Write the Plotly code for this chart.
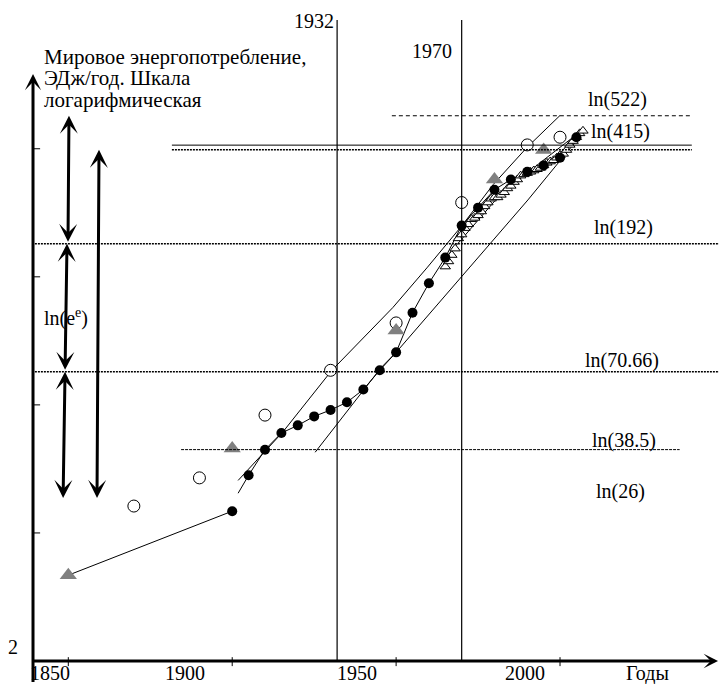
import plotly.graph_objects as go
import math

# ---------------- data (y = ln of world energy use, EJ/yr) ----------------
years_black = [1900, 1905, 1910, 1915, 1920, 1925, 1930, 1935, 1940, 1945, 1950,
               1955, 1960, 1965, 1970, 1975, 1980, 1985, 1990, 1995, 2000, 2005]
ln_black = [3.17, 3.45, 3.65, 3.78, 3.84, 3.91, 3.96, 4.02, 4.12, 4.27, 4.41,
            4.72, 4.95, 5.15, 5.40, 5.54, 5.68, 5.76, 5.82, 5.87, 5.93, 6.09]

# connecting curve of the black points (starts just before 1905) and the 1850-1900 link
curve_years = [1901.8, 1905, 1910, 1915, 1920, 1925, 1930, 1935, 1940, 1945, 1950,
               1955, 1960, 1965, 1970, 1975, 1980, 1985, 1990, 1995, 2000, 2005]
curve_ln = [3.31, 3.45, 3.65, 3.78, 3.84, 3.91, 3.96, 4.02, 4.12, 4.27, 4.41,
            4.72, 4.95, 5.15, 5.40, 5.54, 5.68, 5.76, 5.82, 5.87, 5.93, 6.09]
early_years = [1850, 1900]
early_ln = [2.67, 3.17]

years_open_circ = [1870, 1890, 1910, 1930, 1950, 1970, 1990, 2000]
ln_open_circ = [3.21, 3.43, 3.92, 4.27, 4.64, 5.58, 6.03, 6.09]

years_gray = [1850, 1900, 1950, 1980, 1995]
ln_gray = [2.67, 3.66, 4.58, 5.76, 5.99]

years_tri = list(range(1965, 2008))
ln_tri = [5.08, 5.12, 5.17, 5.22, 5.30, 5.33, 5.38, 5.41, 5.45, 5.46,
          5.48, 5.51, 5.55, 5.58, 5.61, 5.62, 5.62, 5.64, 5.66, 5.69,
          5.71, 5.74, 5.76, 5.79, 5.80, 5.81, 5.82, 5.83, 5.84, 5.85,
          5.87, 5.89, 5.90, 5.91, 5.93, 5.95, 5.96, 5.99, 6.03, 6.06,
          6.09, 6.12, 6.14]

fit_upper_years = [1901.8, 1910.3, 1915.5, 1930.4, 1942.0, 1949.0, 1959.4, 1967.0, 1970.1, 1979.6, 1989.9, 2000.0]
fit_upper_ln = [3.41, 3.65, 3.79, 4.27, 4.58, 4.76, 5.07, 5.30, 5.40, 5.72, 6.01, 6.26]

fit_mid_years = [1965.8, 1981.7, 1993.9, 2007.0]
fit_mid_ln = [5.17, 5.64, 5.89, 6.15]

fit_lower_years = [1925.3, 1940.2, 1945.4, 1950.0, 1969.5, 1980.2, 1990.2, 2004.6]
fit_lower_ln = [3.63, 4.12, 4.29, 4.41, 4.99, 5.30, 5.60, 6.05]

levels = [522, 415, 400, 192, 70.66, 38.5, 26]
level_labels = ["ln(522)", "ln(415)", "", "ln(192)", "ln(70.66)", "ln(38.5)", "ln(26)"]
marked_years = [1932, 1970]
x_ticks = [1850, 1900, 1950, 2000]
x_tick_labels = ["1850", "1900", "1950", "2000"]
y_ticks = [3, 4, 5, 6]

ln_lv = [math.log(v) for v in levels]

FONT = "Liberation Serif, Times New Roman, serif"
FS = 20
fig = go.Figure()

# fitted lines
for xs, ys in [(fit_upper_years, fit_upper_ln), (fit_mid_years, fit_mid_ln), (fit_lower_years, fit_lower_ln)]:
    fig.add_trace(go.Scatter(x=xs, y=ys, mode="lines", line=dict(color="black", width=1),
                             hoverinfo="skip", showlegend=False))
# connecting curve
fig.add_trace(go.Scatter(x=early_years, y=early_ln, mode="lines", line=dict(color="black", width=1),
                         showlegend=False))
fig.add_trace(go.Scatter(x=curve_years, y=curve_ln, mode="lines", line=dict(color="black", width=1),
                         showlegend=False))
# open triangles
fig.add_trace(go.Scatter(x=years_tri, y=ln_tri, mode="markers",
                         marker=dict(symbol="triangle-up", size=9, color="white",
                                     line=dict(color="black", width=1)), showlegend=False))
# black circles
fig.add_trace(go.Scatter(x=years_black, y=ln_black, mode="markers",
                         marker=dict(symbol="circle", size=10, color="black"), showlegend=False))
# open circles
fig.add_trace(go.Scatter(x=years_open_circ, y=ln_open_circ, mode="markers",
                         marker=dict(symbol="circle", size=12, color="white",
                                     line=dict(color="black", width=1)), showlegend=False))
# gray triangles
fig.add_trace(go.Scatter(x=years_gray, y=ln_gray, mode="markers",
                         marker=dict(symbol="triangle-up", size=15, color="#808080"), showlegend=False))

shapes = []
# horizontal reference levels: (x0, x1, dash, width)
lvl_style = [
    (1948.7, 2039.6, "4px,3px", 1),
    (1881.6, 2040.2, "solid", 1),
    (1881.6, 2040.2, "2px,1px", 1.5),
    (1839.8, 2048.5, "2px,1px", 1.5),
    (1839.8, 2048.5, "2px,1px", 1.5),
    (1884.4, 2036.5, "3px,1px", 1),
    None,
]
for lv, st in zip(ln_lv, lvl_style):
    if st is None:
        continue
    shapes.append(dict(type="line", xref="x", yref="y", x0=st[0], x1=st[1], y0=lv, y1=lv,
                       line=dict(color="black", width=st[3], dash=st[2])))
# vertical marker years
for yr in marked_years:
    shapes.append(dict(type="line", xref="x", yref="y", x0=yr, x1=yr, y0=2.0, y1=7.005,
                       line=dict(color="black", width=1.2)))
# axis ticks
for t in x_ticks:
    shapes.append(dict(type="line", xref="x", yref="y", x0=t, x1=t, y0=2.03, y1=1.96,
                       line=dict(color="black", width=1)))
for t in y_ticks:
    shapes.append(dict(type="line", xref="x", yref="y", x0=1839.2, x1=1841.4, y0=t, y1=t,
                       line=dict(color="black", width=1)))

ann = []
def txt(x, y, s, anchor="center", size=FS):
    ann.append(dict(x=x, y=y, xref="x", yref="y", text=s, showarrow=False,
                    xanchor=anchor, yanchor="middle", font=dict(family=FONT, size=size, color="black")))

def arrow(x0, y0, x1, y1, both=True, width=3, size=1.0):
    d = dict(x=x1, y=y1, ax=x0, ay=y0, xref="x", yref="y", axref="x", ayref="y",
             text=" ", font=dict(size=1), showarrow=True, arrowhead=3, arrowsize=size, arrowwidth=width,
             arrowcolor="black", standoff=0, startstandoff=0)
    if both:
        d.update(arrowside="end+start", startarrowhead=3, startarrowsize=size)
    ann.append(d)

# axes with arrows
arrow(1839.23, 1.82, 1839.23, 6.584, both=False, width=3, size=0.9)
arrow(1838.6, 2.0, 2048.2, 2.0, both=False, width=3, size=0.8)

# scale arrows on the left (each one e-unit)
arrow(1849.9, ln_lv[3], 1850.2, ln_lv[0])
arrow(1849.0, ln_lv[4], 1849.6, ln_lv[3])
arrow(1848.4, ln_lv[6], 1849.0, ln_lv[4])
arrow(1858.75, ln_lv[6], 1859.36, ln_lv[2])

# texts
title_lines = ["Мировое энергопотребление,", "ЭДж/год. Шкала", "логарифмическая"]
for s, yy in zip(title_lines, [6.7165, 6.5525, 6.3807]):
    txt(1841.97, yy, s, "left", 21)
txt(1924.95, 6.9976, "1932")
txt(1960.95, 6.7633, "1970")
lbl_pos = [(2017.4, 6.381), (2018.3, 6.131), None, (2019.5, 5.389), (2018.9, 4.350), (2019.5, 3.718), (2018.3, 3.320)]
for s, p in zip(level_labels, lbl_pos):
    if p is not None and s:
        txt(p[0], p[1], s)
txt(1849.3, 4.686, "ln(e<sup>e</sup>)")
txt(1833.1, 2.109, "2")
tick_lbl_x = [1844.4, 1885.6, 1938.1, 1989.3]
for xl, s in zip(tick_lbl_x, x_tick_labels):
    txt(xl, 1.905, s)
txt(2026.8, 1.905, "Годы")

fig.update_layout(
    width=719, height=684, margin=dict(l=0, r=0, t=0, b=0),
    paper_bgcolor="white", plot_bgcolor="white",
    xaxis=dict(range=[1829.16, 2048.5], visible=False, fixedrange=True),
    yaxis=dict(range=[1.8204, 7.1616], visible=False, fixedrange=True),
    shapes=shapes, annotations=ann, showlegend=False,
)
fig.write_html("out.html")
